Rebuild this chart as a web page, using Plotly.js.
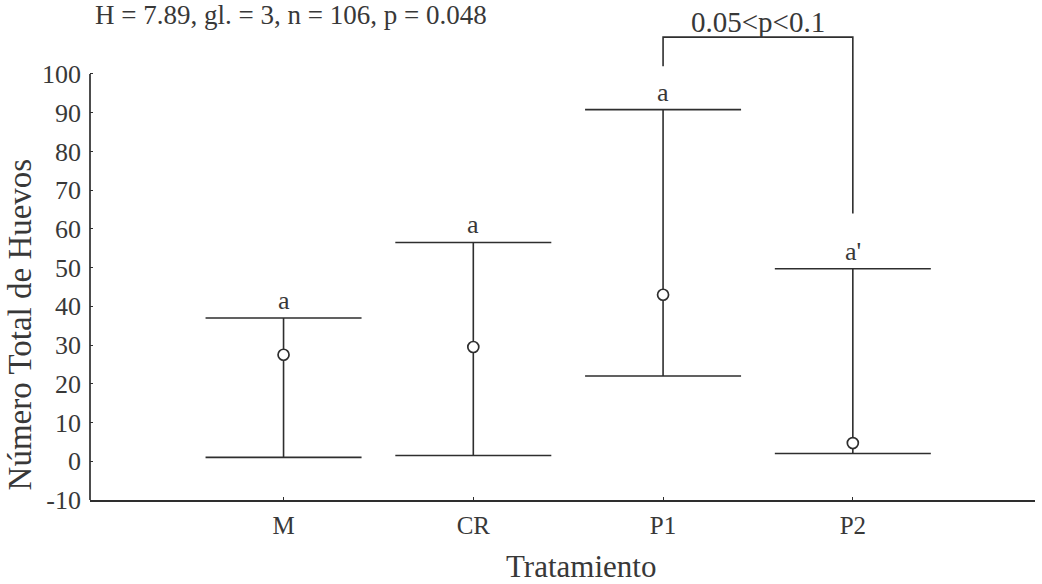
<!DOCTYPE html>
<html>
<head>
<meta charset="utf-8">
<script src="https://cdn.plot.ly/plotly-3.0.1.min.js"></script>
<style>html,body{margin:0;padding:0;background:#fff;}#chart{width:1042px;height:584px;}</style>
</head>
<body>
<div id="chart"></div>
<script>
const categories = ["M", "CR", "P1", "P2"];
const medians = [27.5, 29.5, 43, 4.7];
const upper = [37, 56.5, 90.8, 49.7];
const lower = [1, 1.5, 22, 2];
const letters = ["a", "a", "a", "a'"];
const yTicks = [-10, 0, 10, 20, 30, 40, 50, 60, 70, 80, 90, 100];
const bracketFrom = 2, bracketTo = 3;
const bracketTop = 109.5, bracketLeftEnd = 102, bracketRightEnd = 64;
const bracketLabel = "0.05<p<0.1";
const statText = "H = 7.89, gl. = 3, n = 106, p = 0.048";
const xTitle = "Tratamiento";
const yTitle = "Número Total de Huevos";

const xs = categories.map((c, i) => i);
const lineCol = "#2e2e2e";
const textCol = "#383838";
const fontFam = "Liberation Serif, Times New Roman, serif";

const trace = {
  type: "scatter", mode: "markers",
  x: xs, y: medians,
  marker: {symbol: "circle", size: 11, color: "#fff", line: {color: lineCol, width: 1.7}},
  error_y: {
    type: "data", symmetric: false,
    array: upper.map((u, i) => u - medians[i]),
    arrayminus: lower.map((l, i) => medians[i] - l),
    width: 78, thickness: 1.6, color: lineCol
  },
  hoverinfo: "skip", showlegend: false
};

const annotations = letters.map((t, i) => ({
  x: xs[i], y: upper[i], xref: "x", yref: "y", text: t, showarrow: false,
  yanchor: "bottom", yshift: 1, font: {family: fontFam, size: 26, color: textCol}
}));
annotations.push({
  x: (bracketFrom + bracketTo) / 2, y: bracketTop, xref: "x", yref: "y",
  text: bracketLabel, showarrow: false, yanchor: "bottom", yshift: -3,
  font: {family: fontFam, size: 29, color: textCol}
});
annotations.push({
  x: 0.52, xref: "paper", xanchor: "center", y: -0.137, yref: "paper", yanchor: "middle",
  text: xTitle, showarrow: false, font: {family: fontFam, size: 31, color: textCol}
});
annotations.push({
  x: -0.074, xref: "paper", xanchor: "center", y: 0.36, yref: "paper", yanchor: "middle",
  text: yTitle, textangle: -90, showarrow: false, font: {family: fontFam, size: 33, color: textCol}
});

const shapes = [
  {type: "path", xref: "x", yref: "y",
   path: `M ${bracketFrom} ${bracketLeftEnd} L ${bracketFrom} ${bracketTop} L ${bracketTo} ${bracketTop} L ${bracketTo} ${bracketRightEnd}`,
   line: {color: lineCol, width: 1.6}},
  {type: "line", xref: "paper", yref: "y", x0: 0, x1: 0, y0: yTicks[0], y1: yTicks[yTicks.length - 1],
   line: {color: lineCol, width: 1.7}}
];

const layout = {
  width: 1042, height: 584,
  margin: {l: 90, r: 7, t: 12, b: 84},
  paper_bgcolor: "#fff", plot_bgcolor: "#fff",
  font: {family: fontFam, color: textCol},
  title: {text: statText, x: 95 / 1042, xanchor: "left", xref: "container",
          y: 0.975, yref: "container", yanchor: "middle",
          font: {family: fontFam, size: 27, color: textCol}},
  xaxis: {
    range: [-1.02, 3.96], tickvals: xs, ticktext: categories,
    showgrid: false, zeroline: false, showline: true, linecolor: lineCol, linewidth: 2,
    ticks: "inside", ticklen: 3, tickcolor: lineCol,
    tickfont: {family: fontFam, size: 25, color: textCol},
    ticklabelstandoff: 2
  },
  yaxis: {
    range: [-10, 116], tickvals: yTicks, ticktext: yTicks.map(String),
    showgrid: false, zeroline: false, showline: false,
    ticks: "inside", ticklen: 3, tickcolor: lineCol,
    tickfont: {family: fontFam, size: 26, color: textCol},
    ticklabelstandoff: 8
  },
  annotations: annotations,
  shapes: shapes
};

Plotly.newPlot("chart", [trace], layout, {displayModeBar: false, staticPlot: true});
</script>
</body>
</html>
